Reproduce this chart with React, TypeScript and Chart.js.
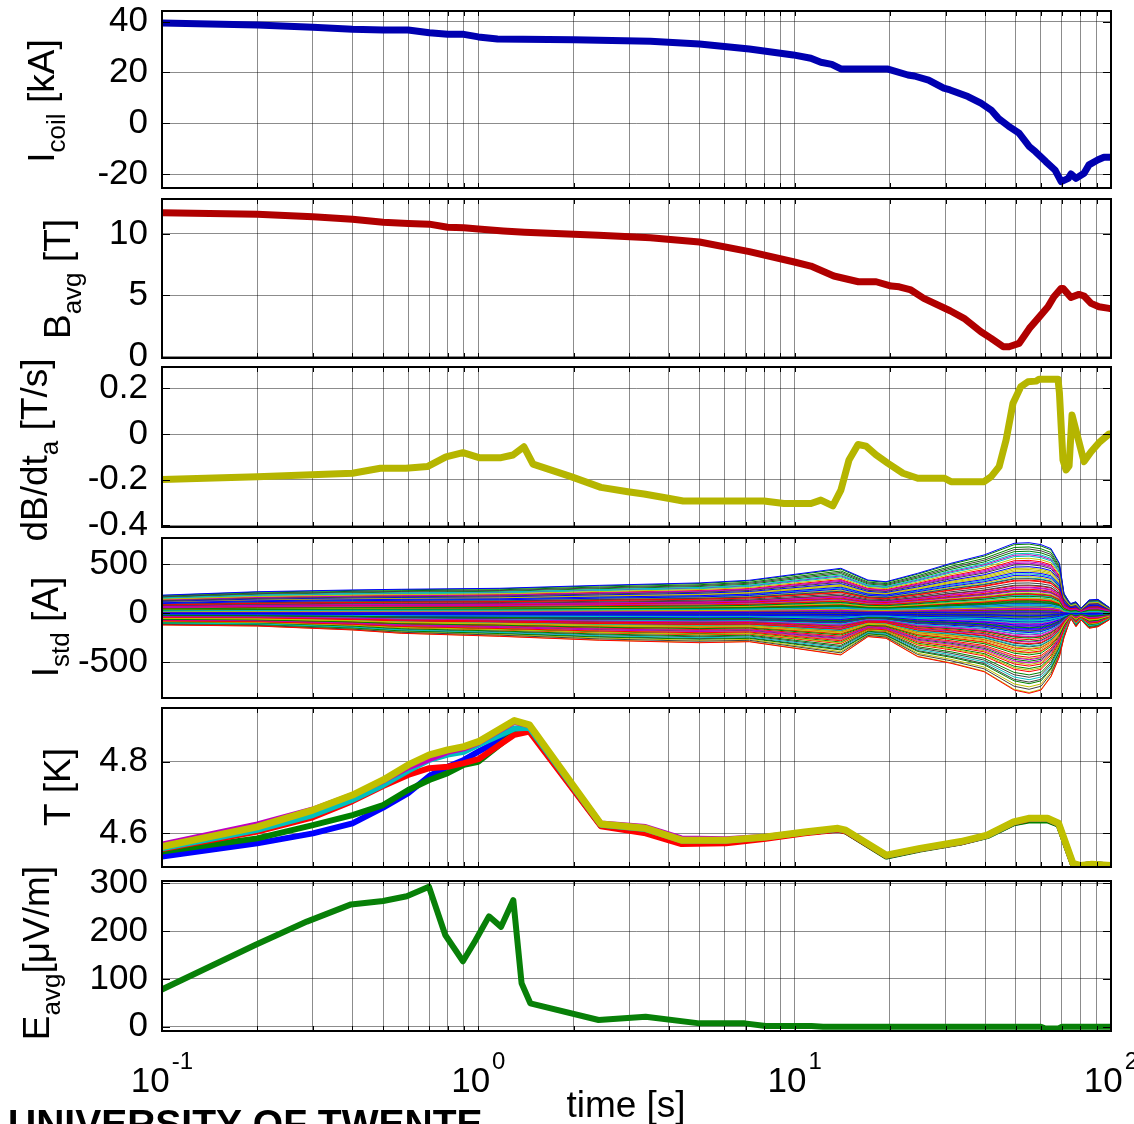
import React, { useEffect, useRef } from 'react';
import { Chart, registerables } from 'chart.js';

Chart.register(...registerables);

const FONT = 'Arial, "Liberation Sans", Helvetica, sans-serif';
Chart.defaults.font.family = FONT;

// ---------- shared time axis ----------
const TIME_GRID = [0.1, 0.2, 0.3, 0.4, 0.5, 0.6, 0.7, 0.8, 0.9, 1, 2, 3, 4, 5, 6, 7, 8, 9, 10, 20, 30, 40, 50, 60, 70, 80, 90, 100];
const TIME_DECADES = [-1, 0, 1, 2];
const TIME_TITLE = 'time [s]';
const FOOTER_TEXT = 'UNIVERSITY OF TWENTE';

// ---------- panel 1: coil current ----------
const ICOIL_TIME = [0.1, 0.2, 0.3, 0.4, 0.5, 0.6, 0.7, 0.8, 0.9, 1.0, 1.15, 2.0, 3.5, 5.0, 7.19, 9.9, 11.25, 12.1, 13.1, 14.0, 19.6, 22.8, 23.9, 26.5, 29.6, 31.0, 35.3, 38.8, 41.8, 44.0, 47.4, 51.2, 55.2, 57.7, 62.2, 66.5, 69.6, 73.3, 74.7, 77.5, 82.2, 85.2, 91.0, 95.0, 100];
const ICOIL_KA = [39.5, 38.7, 37.8, 37.0, 36.7, 36.7, 35.6, 35.0, 35.0, 34.0, 33.2, 32.9, 32.3, 31.2, 29.2, 26.9, 25.6, 24.0, 23.2, 21.4, 21.4, 19.0, 18.6, 17.0, 13.8, 13.1, 10.5, 7.9, 5.2, 2.0, -1.1, -3.9, -9.2, -11.2, -15.1, -18.4, -23.0, -21.7, -20.0, -21.7, -19.7, -16.4, -14.4, -13.4, -13.4];
const ICOIL_TICKS = [-20, 0, 20, 40];
const ICOIL_TICK_LABELS = ['-20', '0', '20', '40'];

// ---------- panel 2: average field ----------
const BAVG_TIME = [0.1, 0.2, 0.3, 0.4, 0.5, 0.6, 0.7, 0.8, 0.9, 1.0, 1.2, 1.4, 2.4, 3.5, 5.0, 7.19, 9.9, 11.25, 13.3, 15.9, 18.1, 20.2, 21.4, 23.3, 25.6, 31.0, 34.3, 38.8, 41.8, 45.6, 47.6, 51.2, 55.2, 58.8, 63.2, 66.0, 69.6, 70.5, 74.7, 79.2, 82.2, 86.5, 91.6, 98.6, 100];
const BAVG_T = [11.74, 11.6, 11.4, 11.2, 10.95, 10.85, 10.8, 10.55, 10.5, 10.4, 10.25, 10.15, 9.9, 9.7, 9.35, 8.56, 7.74, 7.39, 6.58, 6.11, 6.11, 5.76, 5.7, 5.44, 4.76, 3.75, 3.13, 2.04, 1.5, 0.82, 0.82, 1.09, 2.31, 3.13, 4.07, 4.89, 5.57, 5.57, 4.84, 5.08, 4.95, 4.35, 4.07, 3.94, 3.94];
const BAVG_TICKS = [0, 5, 10];
const BAVG_TICK_LABELS = ['0', '5', '10'];

// ---------- panel 3: field rate ----------
const DBDT_TIME = [0.1, 0.2, 0.4, 0.49, 0.59, 0.69, 0.79, 0.894, 1.005, 1.18, 1.287, 1.394, 1.489, 1.963, 2.44, 2.97, 3.34, 3.98, 4.44, 8.0, 9.25, 11.26, 12.1, 13.2, 14.0, 14.85, 15.86, 16.81, 18.08, 19.73, 22.0, 24.5, 29.7, 31.2, 39.7, 41.8, 44.3, 46.6, 49.0, 51.9, 54.6, 57.9, 59.2, 68.0, 68.7, 70.5, 72.1, 73.7, 75.3, 82.2, 86.5, 91.6, 98.6, 100];
const DBDT_TS = [-0.2, -0.187, -0.172, -0.15, -0.15, -0.143, -0.1, -0.082, -0.104, -0.104, -0.092, -0.056, -0.132, -0.187, -0.234, -0.253, -0.263, -0.282, -0.294, -0.294, -0.305, -0.305, -0.29, -0.315, -0.246, -0.114, -0.046, -0.053, -0.092, -0.129, -0.172, -0.194, -0.194, -0.209, -0.209, -0.187, -0.143, -0.026, 0.135, 0.208, 0.229, 0.232, 0.24, 0.24, 0.18, -0.114, -0.158, -0.14, 0.083, -0.121, -0.078, -0.038, 0.0, 0.0];
const DBDT_TICKS = [-0.4, -0.2, 0, 0.2];
const DBDT_TICK_LABELS = ['-0.4', '-0.2', '0', '0.2'];

const ISTD_TIME = [0.1, 0.2, 0.4, 0.57, 1.17, 2.41, 5.0, 7.19, 14.0, 17.05, 19.44, 24.5, 31.2, 39.7, 49.4, 55.1, 60.1, 64.6, 68.7, 71.0, 73.7, 74.7, 77.5, 80.4, 85.2, 91.0, 98.6];
const ISTD_UPPER = [185, 220, 238, 245, 255, 285, 310, 337, 459, 339, 322, 408, 510, 595, 714, 720, 700, 660, 510, 204, 118, 100, 118, 51, 136, 142, 61];
const ISTD_LOWER = [-119, -130, -170, -204, -235, -275, -300, -290, -425, -238, -255, -443, -510, -596, -783, -816, -783, -647, -443, -250, -100, -54, -137, -68, -153, -137, -68];
const ISTD_STRANDS = [
  1.0, -0.18, -1.0, -0.83, 0.37, -0.44, 0.91, -0.07, 0.24, -0.66, 0.13, -0.29, 0.78, -0.95, 0.02, -0.52,
  0.46, -0.12, 0.31, -0.71, 0.69, -0.03, 0.17, -0.38, 0.85, -0.58, 0.09, -0.22, 0.54, -0.88, 0.27, -0.09,
  0.73, -0.47, 0.4, -0.15, 0.98, -0.33, 0.11, -0.62, 0.21, -0.01, 0.58, -0.77, 0.34, -0.26, 0.07, -0.92,
  0.49, -0.11, 0.15, -0.55, 0.81, -0.36, 0.29, -0.05, 0.66, -0.69, 0.19, -0.41, 0.03, -0.99, 0.43, -0.2,
  0.88, -0.49, 0.25, -0.13, 0.52, -0.8, 0.12, -0.31, 0.75, -0.06, 0.36, -0.64, 0.01, -0.24, 0.94, -0.45,
  0.22, -0.16, 0.6, -0.86, 0.08, -0.35, 0.47, -0.1, 0.71, -0.57, 0.32, -0.02, 0.18, -0.73, 0.56, -0.27,
  0.62, -0.42, 0.14, -0.6, 0.39, -0.08, 0.83, -0.5, 0.26, -0.19, 0.04, 0.05, 0.5, -0.14, 0.64, -0.39,
  0.1, -0.04, 0.2, -0.23, 0.06, -0.11, 0.16, -0.17, 0.28, -0.3, 0.33, -0.21
];
const ISTD_TICKS = [-500, 0, 500];
const ISTD_TICK_LABELS = ['-500', '0', '500'];

// ---------- panel 5: temperatures ----------
const T_TIME = [0.1, 0.2, 0.3, 0.4, 0.5, 0.6, 0.7, 0.8, 0.9, 1.0, 1.3, 1.45, 2.44, 3.38, 4.39, 6.07, 8.1, 10.76, 13.7, 14.5, 19.5, 24.9, 33.5, 40.6, 49.2, 54.9, 63.0, 68.3, 75.8, 80.3, 87.0, 100];
const T_BLUE = [4.535, 4.572, 4.6, 4.628, 4.672, 4.712, 4.76, 4.786, 4.805, 4.828, 4.882, 4.888, 4.622, 4.606, 4.575, 4.577, 4.588, 4.602, 4.611, 4.606, 4.536, 4.556, 4.575, 4.593, 4.629, 4.638, 4.638, 4.625, 4.513, 4.51, 4.514, 4.51];
const T_GREEN = [4.549, 4.586, 4.623, 4.651, 4.679, 4.721, 4.749, 4.768, 4.791, 4.8, 4.88, 4.888, 4.622, 4.605, 4.574, 4.576, 4.587, 4.602, 4.611, 4.605, 4.535, 4.555, 4.574, 4.592, 4.628, 4.636, 4.636, 4.624, 4.513, 4.51, 4.514, 4.51];
const T_RED = [4.556, 4.605, 4.645, 4.69, 4.732, 4.763, 4.782, 4.786, 4.796, 4.807, 4.875, 4.884, 4.62, 4.6, 4.57, 4.572, 4.585, 4.6, 4.61, 4.606, 4.537, 4.556, 4.575, 4.594, 4.63, 4.64, 4.64, 4.626, 4.514, 4.51, 4.514, 4.51];
const T_CYAN = [4.558, 4.61, 4.651, 4.694, 4.735, 4.775, 4.805, 4.82, 4.828, 4.847, 4.893, 4.895, 4.624, 4.612, 4.58, 4.58, 4.589, 4.603, 4.612, 4.608, 4.538, 4.557, 4.576, 4.594, 4.631, 4.641, 4.641, 4.627, 4.515, 4.51, 4.514, 4.51];
const T_MAGENTA = [4.57, 4.626, 4.668, 4.708, 4.745, 4.783, 4.806, 4.826, 4.836, 4.852, 4.91, 4.9, 4.629, 4.619, 4.587, 4.585, 4.592, 4.604, 4.612, 4.607, 4.54, 4.556, 4.575, 4.593, 4.63, 4.64, 4.64, 4.626, 4.514, 4.51, 4.514, 4.51];
const T_OLIVE = [4.563, 4.618, 4.665, 4.707, 4.749, 4.791, 4.819, 4.833, 4.842, 4.856, 4.915, 4.903, 4.626, 4.614, 4.581, 4.581, 4.59, 4.604, 4.614, 4.609, 4.539, 4.558, 4.577, 4.595, 4.632, 4.642, 4.642, 4.628, 4.516, 4.51, 4.514, 4.51];
const T_TICKS = [4.6, 4.8];
const T_TICK_LABELS = ['4.6', '4.8'];

// ---------- panel 6: average electric field ----------
const E_TIME = [0.1, 0.197, 0.287, 0.396, 0.5, 0.594, 0.698, 0.786, 0.894, 0.98, 1.08, 1.18, 1.29, 1.37, 1.46, 2.4, 3.38, 5.0, 6.95, 8.1, 11.3, 12.3, 60, 62, 68, 70, 100];
const E_UVM = [78, 171, 220, 256, 263, 273, 293, 192, 137, 181, 231, 209, 265, 91, 49, 14, 21, 7, 7, 1.5, 1.5, 0, 0, -4, -4, 0, 0];
const E_TICKS = [0, 100, 200, 300];
const E_TICK_LABELS = ['0', '100', '200', '300'];

// ---------- axis titles (text, subscript flag) ----------
const ICOIL_TITLE: [string, boolean][] = [['I', false], ['coil', true], [' [kA]', false]];
const BAVG_TITLE: [string, boolean][] = [['B', false], ['avg', true], [' [T]', false]];
const DBDT_TITLE: [string, boolean][] = [['dB/dt', false], ['a', true], [' [T/s]', false]];
const ISTD_TITLE: [string, boolean][] = [['I', false], ['std', true], [' [A]', false]];
const T_TITLE: [string, boolean][] = [['T [K]', false]];
const E_TITLE: [string, boolean][] = [['E', false], ['avg', true], ['[\u03bcV/m]', false]];

const MATLAB_COLORS = ['#0000FF', '#008000', '#FF0000', '#00BFBF', '#BF00BF', '#BFBF00', '#404040'];
const GRID_COLOR = 'rgba(0,0,0,0.45)';
const W = 1134;
const H = 1124;
const PLOT_LEFT = 162;
const PLOT_RIGHT = 1111;

function pts(t: number[], v: number[]) {
  return t.map((x, i) => ({ x, y: v[i] }));
}

function lineDs(t: number[], v: number[], color: string, width: number) {
  return {
    data: pts(t, v),
    borderColor: color,
    backgroundColor: color,
    borderWidth: width,
    pointRadius: 0,
    tension: 0,
    fill: false,
    borderJoinStyle: 'round',
    borderCapStyle: 'round',
  };
}

const strandDatasets = ISTD_STRANDS.map((w, k) =>
  lineDs(
    ISTD_TIME,
    ISTD_TIME.map((_, i) => (w >= 0 ? w * ISTD_UPPER[i] : -w * ISTD_LOWER[i])),
    MATLAB_COLORS[k % MATLAB_COLORS.length],
    1
  )
);

type Panel = {
  top: number;
  bottom: number;
  min: number;
  max: number;
  ticks: number[];
  labels: string[];
  title: [string, boolean][];
  titleX: number;
  titleY: number;
  datasets: any[];
  bottomAxis?: boolean;
};

// note: Chart.js paints dataset 0 last (on top)
const PANELS: Panel[] = [
  {
    top: 11, bottom: 188, min: -25.5, max: 44.2, ticks: ICOIL_TICKS, labels: ICOIL_TICK_LABELS,
    title: ICOIL_TITLE, titleX: 54, titleY: 101,
    datasets: [lineDs(ICOIL_TIME, ICOIL_KA, '#0000B0', 7)],
  },
  {
    top: 199, bottom: 358, min: -0.1, max: 12.85, ticks: BAVG_TICKS, labels: BAVG_TICK_LABELS,
    title: BAVG_TITLE, titleX: 70, titleY: 279,
    datasets: [lineDs(BAVG_TIME, BAVG_T, '#B00000', 7)],
  },
  {
    top: 367, bottom: 527, min: -0.408, max: 0.294, ticks: DBDT_TICKS, labels: DBDT_TICK_LABELS,
    title: DBDT_TITLE, titleX: 47, titleY: 450,
    datasets: [lineDs(DBDT_TIME, DBDT_TS, '#B5B500', 7)],
  },
  {
    top: 538, bottom: 698, min: -864, max: 768, ticks: ISTD_TICKS, labels: ISTD_TICK_LABELS,
    title: ISTD_TITLE, titleX: 58, titleY: 627,
    datasets: strandDatasets,
  },
  {
    top: 708, bottom: 867, min: 4.506, max: 4.95, ticks: T_TICKS, labels: T_TICK_LABELS,
    title: T_TITLE, titleX: 70, titleY: 787,
    datasets: [
      lineDs(T_TIME, T_OLIVE, '#BFBF00', 7),
      lineDs(T_TIME, T_MAGENTA, '#BF00BF', 5),
      lineDs(T_TIME, T_CYAN, '#00BFBF', 6),
      lineDs(T_TIME, T_RED, '#FF0000', 6),
      lineDs(T_TIME, T_GREEN, '#008000', 6),
      lineDs(T_TIME, T_BLUE, '#0000FF', 6),
    ],
  },
  {
    top: 881, bottom: 1031, min: -9, max: 305, ticks: E_TICKS, labels: E_TICK_LABELS,
    title: E_TITLE, titleX: 49, titleY: 953,
    datasets: [lineDs(E_TIME, E_UVM, '#088008', 6)],
    bottomAxis: true,
  },
];

function drawRotatedTitle(ctx: CanvasRenderingContext2D, parts: [string, boolean][], bx: number, cy: number) {
  const big = `37px ${FONT}`;
  const small = `26px ${FONT}`;
  ctx.save();
  ctx.translate(bx, cy);
  ctx.rotate(-Math.PI / 2);
  ctx.fillStyle = '#000';
  ctx.textAlign = 'left';
  ctx.textBaseline = 'alphabetic';
  let total = 0;
  for (const [s, sub] of parts) {
    ctx.font = sub ? small : big;
    total += ctx.measureText(s).width;
  }
  let x = -total / 2;
  for (const [s, sub] of parts) {
    ctx.font = sub ? small : big;
    ctx.fillText(s, x, sub ? 11 : 0);
    x += ctx.measureText(s).width;
  }
  ctx.restore();
}

function makeFramePlugin(p: Panel) {
  return {
    id: 'matlabFrame',
    afterDraw(chart: any) {
      const { ctx, chartArea: a, scales } = chart;
      const xs = scales.x;
      const ys = scales.y;
      ctx.save();
      ctx.strokeStyle = '#000';
      ctx.lineWidth = 1;
      ctx.beginPath();
      for (const v of TIME_GRID) {
        const px = Math.round(xs.getPixelForValue(v)) + 0.5;
        ctx.moveTo(px, a.top);
        ctx.lineTo(px, a.top + 5);
        ctx.moveTo(px, a.bottom);
        ctx.lineTo(px, a.bottom - 5);
      }
      for (const v of p.ticks) {
        const py = Math.round(ys.getPixelForValue(v)) + 0.5;
        ctx.moveTo(a.left, py);
        ctx.lineTo(a.left + 8, py);
        ctx.moveTo(a.right, py);
        ctx.lineTo(a.right - 8, py);
      }
      ctx.stroke();
      ctx.lineWidth = 2;
      ctx.strokeRect(a.left, a.top, a.right - a.left, a.bottom - a.top);

      drawRotatedTitle(ctx, p.title, p.titleX, p.titleY);

      if (p.bottomAxis) {
        ctx.fillStyle = '#000';
        ctx.textAlign = 'left';
        ctx.textBaseline = 'alphabetic';
        for (const e of TIME_DECADES) {
          const px = xs.getPixelForValue(Math.pow(10, e));
          ctx.font = `35px ${FONT}`;
          const w1 = ctx.measureText('10').width;
          ctx.font = `24px ${FONT}`;
          const es = String(e);
          const w2 = ctx.measureText(es).width;
          const start = px - (w1 + w2 + 2) / 2;
          ctx.font = `35px ${FONT}`;
          ctx.fillText('10', start, 1092);
          ctx.font = `24px ${FONT}`;
          ctx.fillText(es, start + w1 + 2, 1069);
        }
        ctx.font = `37px ${FONT}`;
        ctx.textAlign = 'center';
        ctx.fillText(TIME_TITLE, 626, 1117);
        ctx.font = `bold 39px ${FONT}`;
        ctx.textAlign = 'left';
        ctx.fillText(FOOTER_TEXT, 8, 1137);
      }
      ctx.restore();
    },
  };
}

function makeConfig(p: Panel): any {
  return {
    type: 'line',
    data: { datasets: p.datasets },
    options: {
      animation: false,
      responsive: false,
      devicePixelRatio: 1,
      events: [],
      layout: { padding: { left: 0, right: W - PLOT_RIGHT, top: p.top, bottom: H - p.bottom } },
      plugins: { legend: { display: false }, tooltip: { enabled: false } },
      scales: {
        x: {
          type: 'logarithmic',
          min: 0.1,
          max: 100,
          position: 'bottom',
          afterBuildTicks: (s: any) => {
            s.ticks = TIME_GRID.map((v) => ({ value: v }));
          },
          afterFit: (s: any) => {
            s.height = 0;
            s.paddingLeft = 0;
            s.paddingRight = 0;
            s.paddingTop = 0;
            s.paddingBottom = 0;
          },
          ticks: { display: false },
          grid: { color: GRID_COLOR, lineWidth: 1, drawTicks: false },
          border: { display: false },
        },
        y: {
          type: 'linear',
          min: p.min,
          max: p.max,
          position: 'left',
          afterBuildTicks: (s: any) => {
            s.ticks = p.ticks.map((v) => ({ value: v }));
          },
          afterFit: (s: any) => {
            s.width = PLOT_LEFT;
            s.paddingLeft = 0;
            s.paddingRight = 0;
            s.paddingTop = 0;
            s.paddingBottom = 0;
          },
          ticks: {
            display: true,
            autoSkip: false,
            padding: 14,
            color: '#000',
            font: { size: 35, family: FONT },
            callback: (_v: any, i: number) => p.labels[i],
          },
          grid: { color: GRID_COLOR, lineWidth: 1, drawTicks: false },
          border: { display: false },
        },
      },
    },
    plugins: [makeFramePlugin(p)],
  };
}

export default function App() {
  const refs = useRef<(HTMLCanvasElement | null)[]>([]);
  useEffect(() => {
    const charts = PANELS.map((p, i) => new Chart(refs.current[i] as HTMLCanvasElement, makeConfig(p)));
    return () => {
      charts.forEach((c) => c.destroy());
    };
  }, []);
  return (
    <div
      style={{
        position: 'absolute',
        left: 0,
        top: 0,
        width: W,
        height: H,
        overflow: 'hidden',
        background: '#fff',
      }}
    >
      {PANELS.map((_, i) => (
        <canvas
          key={i}
          ref={(el) => {
            refs.current[i] = el;
          }}
          width={W}
          height={H}
          style={{ position: 'absolute', left: 0, top: 0 }}
        />
      ))}
    </div>
  );
}
